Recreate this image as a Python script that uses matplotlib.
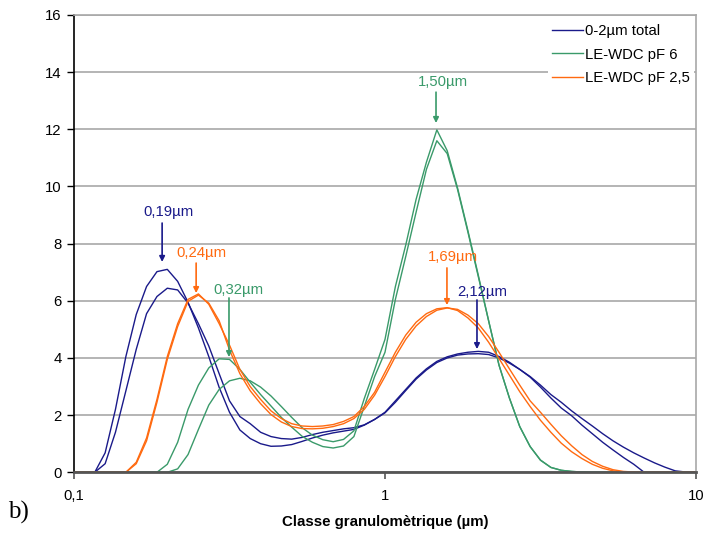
import matplotlib
matplotlib.use("Agg")
import matplotlib.pyplot as plt

plt.rcParams['font.family'] = ['Liberation Sans', 'DejaVu Sans']

# Particle size classes (µm)
size_um = [0.1, 0.108, 0.1166, 0.1259, 0.1359, 0.1468, 0.1585, 0.1711, 0.1848, 0.1995,
           0.2154, 0.2326, 0.2512, 0.2712, 0.2929, 0.3162, 0.3415, 0.3687, 0.3981, 0.4299,
           0.4642, 0.5012, 0.5412, 0.5843, 0.631, 0.6813, 0.7356, 0.7943, 0.8577, 0.9261,
           1.0, 1.08, 1.166, 1.259, 1.359, 1.468, 1.585, 1.711, 1.848, 1.995,
           2.154, 2.326, 2.512, 2.712, 2.929, 3.162, 3.415, 3.687, 3.981, 4.299,
           4.642, 5.012, 5.412, 5.843, 6.31, 6.813, 7.356, 7.943, 8.577, 9.261, 10.0]

# 0-2 µm total (two replicates)
total_a = [0, 0, 0, 0.68, 2.2, 4.05, 5.52, 6.5, 7.02, 7.1,
           6.68, 5.95, 5.05, 4.05, 2.97, 2.1, 1.48, 1.18, 1.0, 0.91,
           0.92, 0.97, 1.08, 1.2, 1.3, 1.38, 1.44, 1.5, 1.65, 1.85,
           2.1, 2.5, 2.9, 3.3, 3.62, 3.88, 4.04, 4.14, 4.2, 4.23,
           4.2, 4.05, 3.85, 3.6, 3.33, 2.98, 2.6, 2.25, 1.98, 1.65,
           1.35, 1.05, 0.78, 0.52, 0.28, 0, 0, 0, 0, 0, 0]
total_b = [0, 0, 0, 0.3, 1.4, 2.85, 4.3, 5.55, 6.15, 6.44,
           6.38, 5.92, 5.2, 4.42, 3.45, 2.5, 1.95, 1.7, 1.4, 1.25,
           1.18, 1.16, 1.22, 1.32, 1.4, 1.46, 1.52, 1.56, 1.66, 1.85,
           2.08, 2.45, 2.86, 3.26, 3.58, 3.84, 4.0, 4.1, 4.14, 4.15,
           4.12, 4.0, 3.82, 3.6, 3.35, 3.05, 2.72, 2.45, 2.15, 1.88,
           1.62, 1.35, 1.1, 0.88, 0.68, 0.5, 0.33, 0.18, 0.05, 0.01, 0]

# LE-WDC pF 6 (two replicates)
pf6_a = [0, 0, 0, 0, 0, 0, 0, 0, 0, 0,
         0.12, 0.62, 1.5, 2.35, 2.9, 3.2, 3.29, 3.2, 2.98, 2.67,
         2.3, 1.92, 1.56, 1.3, 1.14, 1.07, 1.15, 1.45, 2.58, 3.6,
         4.65, 6.5, 7.95, 9.55, 10.85, 11.98, 11.25, 9.95, 8.45, 6.9,
         5.3, 3.75, 2.6, 1.6, 0.9, 0.43, 0.17, 0.07, 0.03, 0.01,
         0, 0, 0, 0, 0, 0, 0, 0, 0, 0, 0]
pf6_b = [0, 0, 0, 0, 0, 0, 0, 0, 0, 0.28,
         1.05, 2.2, 3.05, 3.65, 3.97, 3.95, 3.6, 3.15, 2.72, 2.32,
         1.92, 1.58, 1.26, 1.05, 0.9, 0.85, 0.92, 1.25, 2.3, 3.35,
         4.2, 6.05, 7.55, 9.1, 10.6, 11.6, 11.15, 9.9, 8.4, 6.85,
         5.3, 3.75, 2.6, 1.6, 0.9, 0.42, 0.17, 0.07, 0.03, 0.01,
         0, 0, 0, 0, 0, 0, 0, 0, 0, 0, 0]

# LE-WDC pF 2,5 (two replicates)
pf25_a = [0, 0, 0, 0, 0, 0, 0.35, 1.2, 2.55, 4.05,
          5.2, 6.05, 6.24, 5.88, 5.2, 4.45, 3.6, 3.0, 2.55, 2.15,
          1.88, 1.7, 1.62, 1.6, 1.62, 1.67, 1.78, 1.95, 2.3, 2.8,
          3.5, 4.2, 4.8, 5.25, 5.55, 5.72, 5.76, 5.66, 5.4, 5.05,
          4.55, 3.98, 3.4, 2.82, 2.3, 1.82, 1.4, 1.02, 0.72, 0.48,
          0.28, 0.14, 0.05, 0.01, 0, 0, 0, 0, 0, 0, 0]
pf25_b = [0, 0, 0, 0, 0, 0, 0.3, 1.1, 2.45, 3.95,
          5.1, 5.98, 6.2, 5.92, 5.3, 4.28, 3.45, 2.85, 2.4, 2.02,
          1.76, 1.6, 1.53, 1.52, 1.54, 1.6, 1.7, 1.88, 2.2, 2.7,
          3.35, 4.05, 4.65, 5.12, 5.45, 5.67, 5.75, 5.7, 5.5, 5.2,
          4.75, 4.2, 3.62, 3.05, 2.5, 2.1, 1.68, 1.28, 0.93, 0.62,
          0.38, 0.21, 0.09, 0.03, 0.01, 0, 0, 0, 0, 0, 0]

series_labels = ["0-2µm total", "LE-WDC pF 6", "LE-WDC pF 2,5"]
peak_labels = ["0,19µm", "0,24µm", "0,32µm", "1,50µm", "1,69µm", "2,12µm"]

navy = "#1a1a8a"
green = "#3a9a6a"
orange = "#ff6a10"
FS = 10.7

fig = plt.figure(figsize=(7.03, 5.33), dpi=100)
ax = fig.add_axes([0.1053, 0.1139, 0.8847, 0.858])

lw = 1.0
l1, = ax.plot(size_um, total_a, color=navy, lw=lw, label=series_labels[0])
ax.plot(size_um, total_b, color=navy, lw=lw)
l2, = ax.plot(size_um, pf6_a, color=green, lw=lw, label=series_labels[1])
ax.plot(size_um, pf6_b, color=green, lw=lw)
l3, = ax.plot(size_um, pf25_a, color=orange, lw=lw, label=series_labels[2])
ax.plot(size_um, pf25_b, color=orange, lw=lw)

ax.set_xscale('log')
ax.set_xlim(0.1, 10)
ax.set_ylim(0, 16)
ax.set_yticks(range(0, 17, 2))
ax.set_xticks([0.1, 1, 10])
ax.set_xticklabels(["0,1", "1", "10"])
ax.xaxis.set_minor_locator(matplotlib.ticker.NullLocator())
ax.grid(axis='y', color='#a8a8a8', lw=1.2)
ax.set_axisbelow(True)

for s in ['top', 'right']:
    ax.spines[s].set_color('#a8a8a8')
    ax.spines[s].set_linewidth(1.2)
ax.spines['left'].set_color('black')
ax.spines['left'].set_linewidth(1.2)
ax.spines['bottom'].set_color('#555555')
ax.spines['bottom'].set_linewidth(2.0)
ax.tick_params(axis='y', length=5, width=1, labelsize=FS, pad=4)
ax.tick_params(axis='x', length=5, width=1.2, color='#555555', labelsize=FS, pad=7)

ax.set_xlabel("Classe granulomètrique (µm)", fontsize=10.8, fontweight='bold', labelpad=9)

# Peak annotations: (arrow x, text x, text y, arrow top y, arrow head y)
ann_pos = [(0.192, 0.202, 9.1, 8.72, 7.36),
           (0.247, 0.256, 7.67, 7.32, 6.27),
           (0.315, 0.337, 6.38, 6.1, 4.03),
           (1.459, 1.537, 13.66, 13.3, 12.22),
           (1.582, 1.654, 7.53, 7.15, 5.85),
           (1.976, 2.05, 6.31, 6.03, 4.31)]
ann_cols = [navy, orange, green, green, orange, navy]
for lab, (xa, xt, yt, y0, y1), c in zip(peak_labels, ann_pos, ann_cols):
    ax.text(xt, yt, lab, color=c, fontsize=FS, ha='center', va='center')
    ax.annotate("", xy=(xa, y1), xytext=(xa, y0),
                arrowprops=dict(arrowstyle='-|>', color=c, lw=1.2,
                                mutation_scale=8, shrinkA=0, shrinkB=0))

leg = ax.legend(handles=[l1, l2, l3], loc='upper left', bbox_to_anchor=(0.762, 0.989),
                frameon=True, facecolor='white', edgecolor='none', framealpha=1,
                fontsize=FS, handlelength=2.1, handletextpad=0.15, labelspacing=0.66,
                borderpad=0.25, borderaxespad=0, fancybox=False)

fig.text(0.011, 0.039, "b)", fontsize=18, va='center', ha='left',
         family=['Liberation Serif', 'DejaVu Serif'])

fig.savefig("out.png", dpi=100)
